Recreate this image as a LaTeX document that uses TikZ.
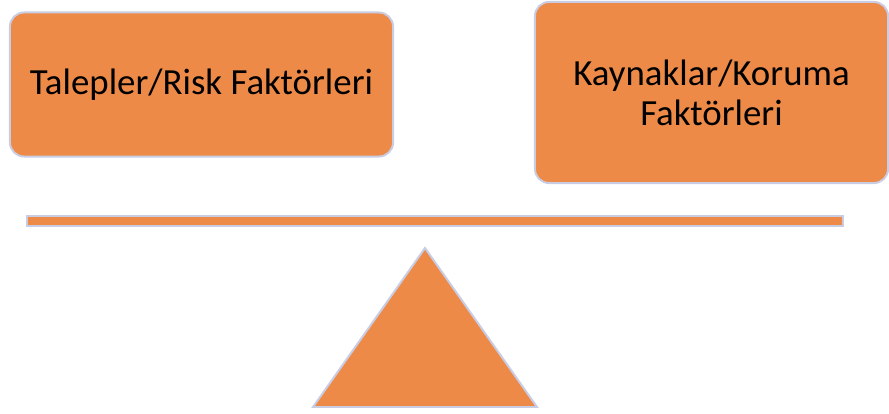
\documentclass[tikz,border=0pt]{standalone}
\usepackage{fontspec}
\setmainfont{Carlito}
\usepackage{tikz}
\usepackage{xcolor}
\definecolor{scaleorange}{HTML}{EE8A48}
\definecolor{scaleedge}{HTML}{C8CDE4}
\tikzset{
  factorbox/.style={draw=scaleedge, line width=1.4pt, fill=scaleorange, rounded corners=10pt,
    align=center, text=black, font=\fontsize{26.2pt}{28.4pt}\selectfont, inner sep=0pt},
  scalepart/.style={draw=scaleedge, line width=1.4pt, fill=scaleorange}
}

\begin{document}
\begin{tikzpicture}[x=0.025cm, y=-0.025cm]
                \useasboundingbox (0,0) rectangle (889,414);
                \coordinate (L) at (201.5,84.5) {};
                \coordinate (R) at (711.5,92.5) {};
                \coordinate (P) at (425,248) {};
                \coordinate (Q) at (313,407) {};
                \coordinate (S) at (537,407) {};
                
                \node[factorbox, minimum width=9.575cm, minimum height=3.6cm] (risk) at (L) {Talepler/Risk Faktörleri};
                \node[factorbox, minimum width=8.825cm, minimum height=4.525cm] (koruma) at (R) {Kaynaklar/Koruma\\Faktörleri};
                \draw[scalepart] (27,216) rectangle (843,226);
                \draw[scalepart] (P) -- (S) -- (Q) -- cycle;
            \end{tikzpicture}
\end{document}
